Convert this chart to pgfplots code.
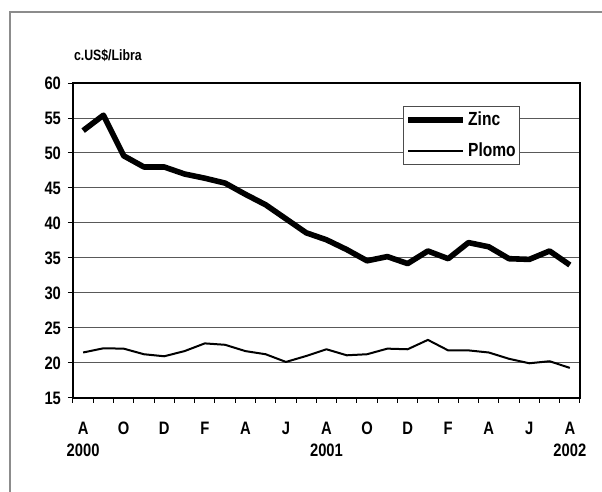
\documentclass[border=0pt]{standalone}
\usepackage{pgfplots}
\pgfplotsset{compat=1.18}
\usepackage{fontspec}
\setmainfont[FakeStretch=0.82]{Liberation Sans}
\newcommand{\lblfont}{\bfseries\fontsize{9}{10}\selectfont}
\begin{document}
\begin{tikzpicture}
\begin{axis}[
    at={(0,0)}, anchor=south west,
    scale only axis,
    width=253.5pt, height=157.5pt,
    xmin=0.5, xmax=25.5, ymin=15, ymax=60,
    xtick={1,3,...,25},
    xticklabels={A,O,D,F,A,J,A,O,D,F,A,J,A},
    minor xtick={0.5,1.5,...,25.5},
    ytick={15,20,...,60},
    xtick pos=bottom, ytick pos=left,
    tick align=outside,
    major tick length=2.5pt, minor tick length=2.5pt,
    major x tick style={draw=none},
    tick style={black, line width=0.5pt},
    ymajorgrids,
    grid style={black!65, line width=0.5pt},
    axis line style={line width=1pt},
    tick label style={font=\lblfont},
    xticklabel style={yshift=-6pt},
    /pgf/number format/assume math mode=true,
    clip=false,
    legend style={at={(0.651,0.927)}, anchor=north west,
        draw=black!70, line width=0.5pt, fill=white,
        font=\bfseries\fontsize{9.5}{10}\selectfont, row sep=3pt,
        inner xsep=1pt, inner ysep=0.5pt,
        nodes={inner xsep=1pt}},
    legend cell align=left,
    legend image code/.code={\draw[#1] (0pt,0pt) -- (27.5pt,0pt);},
]
% Zinc
\addplot[black, line width=2.8pt, line join=round] coordinates {
    (1,53.2) (2,55.4) (3,49.6) (4,48.0) (5,48.0) (6,47.0) (7,46.4)
    (8,45.7) (9,44.1) (10,42.6) (11,40.6) (12,38.6) (13,37.6) (14,36.2)
    (15,34.6) (16,35.2) (17,34.2) (18,36.0) (19,34.9) (20,37.2) (21,36.6)
    (22,34.9) (23,34.8) (24,36.0) (25,34.0)
};
% Plomo
\addplot[black, line width=1pt, line join=round] coordinates {
    (1,21.5) (2,22.1) (3,22.05) (4,21.25) (5,20.96) (6,21.7) (7,22.8)
    (8,22.6) (9,21.7) (10,21.25) (11,20.15) (12,21.0) (13,21.96) (14,21.1)
    (15,21.25) (16,22.05) (17,21.96) (18,23.3) (19,21.8) (20,21.8) (21,21.5)
    (22,20.6) (23,19.96) (24,20.25) (25,19.3)
};
\legend{Zinc, Plomo}
\node[font=\lblfont, yshift=-26pt] at (axis cs:1,15) {2000};
\node[font=\lblfont, yshift=-26pt] at (axis cs:13,15) {2001};
\node[font=\lblfont, yshift=-26pt] at (axis cs:25,15) {2002};
\end{axis}
\node[anchor=west, font=\bfseries\fontsize{7.5}{9}\selectfont] at (-3pt,171.5pt) {c.US\$/Libra};
\draw[black!45, line width=1pt] (264.5pt,193pt) -- (-31.5pt,193pt) -- (-31.5pt,-47pt);
\pgfresetboundingbox
\useasboundingbox (-36.5pt,-47pt) rectangle (264.5pt,199pt);
\end{tikzpicture}
\end{document}
